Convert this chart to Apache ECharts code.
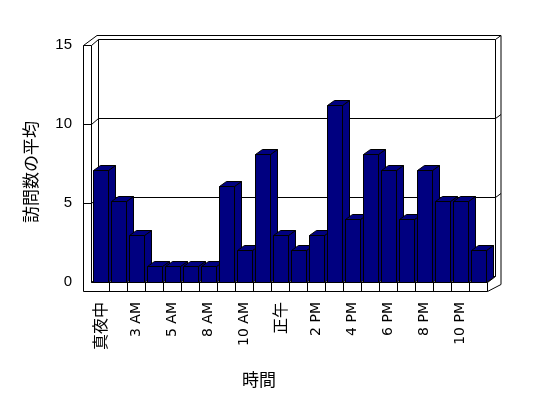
<!DOCTYPE html>
<html>
<head>
<meta charset="utf-8">
<script src="https://cdn.jsdelivr.net/npm/echarts@6/dist/echarts.min.js"></script>
<style>html,body{margin:0;padding:0;background:#fff;}#c{width:548px;height:398px;}</style>
</head>
<body>
<div id="c"></div>
<script>
const categories = ['真夜中','1 AM','3 AM','4 AM','5 AM','7 AM','8 AM','9 AM','10 AM','11 AM','正午','1 PM','2 PM','3 PM','4 PM','5 PM','6 PM','7 PM','8 PM','9 PM','10 PM','11 PM'];
const visits = [7.1,5.1,3,1,1,1,1,6.1,2,8.1,3,2,3,11.2,4,8.1,7.1,4,7.1,5.1,5.1,2];
const yMin = 0, yMax = 15, yStep = 5;
const gridValues = [5, 10];
const xTitle = '時間';
const yTitle = '訪問数の平均';

const chart = echarts.init(document.getElementById('c'), null, {renderer: 'canvas'});
const P = v => Math.round(v) + 0.5;
const BLACK = '#000';
const NAVY = '#000080';

function line(x1, y1, x2, y2) {
  return {type: 'line', shape: {x1: x1, y1: y1, x2: x2, y2: y2}, style: {stroke: BLACK, lineWidth: 1}, silent: true};
}

function renderFrame(params, api) {
  const c0 = api.coord([0, yMin]);
  const bw = api.size([1, 0])[0];
  const L = P(c0[0] - bw / 2);
  const R = P(c0[0] - bw / 2 + bw * categories.length);
  const Y0 = P(c0[1]);
  const YT = P(api.coord([0, yMax])[1]);
  const dx = 7, dy = 6;      // back plane offset
  const ox = 13.5, oy = 10;  // outer edge offset
  const wt = 8, ft = 9;      // wall / floor thickness
  const ch = [];
  ch.push({type: 'polygon', shape: {points: [[L - wt, YT], [L + 5.5, YT - oy], [R + ox, YT - oy], [R + ox, Y0 + 2], [R, Y0 + ft], [L - wt, Y0 + ft]]},
    style: {fill: '#fff', stroke: BLACK, lineWidth: 1}, silent: true});
  // left wall
  ch.push(line(L - wt, YT, L, YT));
  ch.push(line(L, YT, L, Y0));
  ch.push(line(L, YT, L + dx, YT - dy));
  // back wall
  ch.push(line(L + dx, YT - dy, R + dx + 1, YT - dy));
  ch.push(line(L + dx, YT - dy, L + dx, Y0 - dy));
  ch.push(line(R + dx + 1, YT - dy, R + dx + 1, Y0 - dy));
  ch.push(line(R + dx + 1, YT - dy, R + ox, YT - oy));
  ch.push(line(L + dx, Y0 - dy, R + dx + 1, Y0 - dy));
  // floor
  ch.push(line(L, Y0, R, Y0));
  ch.push(line(R, Y0, R, Y0 + ft));
  ch.push(line(L, Y0, L + dx, Y0 - dy));
  ch.push(line(R, Y0, R + dx + 1, Y0 - dy));
  for (let k = 1; k < categories.length; k++) {
    const x = P(c0[0] - bw / 2 + bw * k);
    ch.push(line(x, Y0, x, Y0 + ft));
  }
  // gridlines
  gridValues.forEach(v => {
    const y = P(api.coord([0, v])[1]);
    ch.push(line(L - wt, y, L, y));
    ch.push(line(L, y, L + dx, y - dy));
    ch.push(line(L + dx, y - dy, R + dx + 1, y - dy));
    ch.push(line(R + dx + 1, y - dy, R + ox, y - oy));
  });
  return {type: 'group', children: ch};
}

function renderBar(params, api) {
  const idx = api.value(0), v = api.value(1);
  const top = api.coord([idx, v]);
  const base = api.coord([idx, yMin]);
  const x0 = P(top[0] - 7);
  const yT = P(top[1]);
  const yB = P(base[1]);
  const w = 15, bx = 7, by = 5;
  const st = {fill: NAVY, stroke: BLACK, lineWidth: 1};
  return {type: 'group', children: [
    {type: 'polygon', shape: {points: [[x0 + w, yT], [x0 + w + bx, yT - by], [x0 + w + bx, yB - by], [x0 + w, yB]]}, style: st},
    {type: 'polygon', shape: {points: [[x0, yT], [x0 + bx, yT - by], [x0 + w + bx, yT - by], [x0 + w, yT]]}, style: st},
    {type: 'rect', shape: {x: x0, y: yT, width: w, height: yB - yT}, style: st}
  ]};
}

const option = {
  animation: false,
  backgroundColor: '#fff',
  grid: {left: 91, top: 45, width: 396, height: 237},
  xAxis: {
    type: 'category',
    data: categories,
    axisLine: {show: false},
    axisTick: {show: false},
    splitLine: {show: false},
    axisLabel: {
      interval: 1, rotate: 90, margin: 20,
      formatter: v => (/[^\x00-\x7F]/.test(v) ? '{j|' + v + '}' : '{e|' + v + '}'),
      rich: {
        j: {fontFamily: 'Noto Sans CJK JP', fontSize: 16, color: BLACK},
        e: {fontFamily: 'DejaVu Sans', fontSize: 14, color: BLACK}
      }
    }
  },
  yAxis: {
    type: 'value', min: yMin, max: yMax, interval: yStep,
    axisLine: {show: false},
    axisTick: {show: false},
    splitLine: {show: false},
    axisLabel: {margin: 19, fontSize: 15, color: BLACK, fontFamily: 'Liberation Sans'}
  },
  graphic: [
    {type: 'text', x: 259, y: 380, style: {text: xTitle, font: '17px "Noto Sans CJK JP"', fill: BLACK, textAlign: 'center', textVerticalAlign: 'middle'}},
    {type: 'text', x: 31, y: 172, rotation: Math.PI / 2, style: {text: yTitle, font: '17px "Noto Sans CJK JP"', fill: BLACK, textAlign: 'center', textVerticalAlign: 'middle'}}
  ],
  series: [
    {type: 'custom', z: 1, clip: false, silent: true, renderItem: renderFrame, data: [[0, 0]], encode: {x: 0, y: 1}},
    {type: 'custom', z: 2, clip: false, silent: true, renderItem: renderBar,
      data: visits.map((v, i) => [i, v]), encode: {x: 0, y: 1}}
  ]
};
chart.setOption(option);
</script>
</body>
</html>
